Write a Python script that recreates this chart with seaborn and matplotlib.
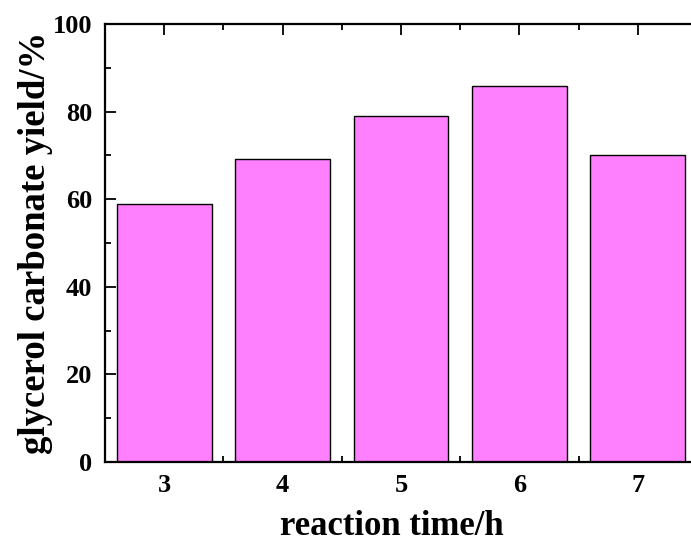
import matplotlib
matplotlib.use("Agg")
import matplotlib.pyplot as plt
import seaborn as sns
import pandas as pd
from matplotlib.ticker import MultipleLocator

# data
times = [3, 4, 5, 6, 7]
yields = [59.0, 69.2, 79.0, 85.9, 70.1]

df = pd.DataFrame({"time": times, "yield": yields})

sns.set_style("ticks")
plt.rcParams["font.family"] = ["Liberation Serif", "DejaVu Serif"]
plt.rcParams["font.weight"] = "bold"
plt.rcParams["text.color"] = "black"
plt.rcParams["axes.labelcolor"] = "black"

fig = plt.figure(figsize=(6.91, 5.44), dpi=100)
# axes runs slightly past the right edge, as in the reference
ax = fig.add_axes([105 / 691, 82 / 544, 592 / 691, 438 / 544])

sns.barplot(data=df, x="time", y="yield", color="#FF80FF", saturation=1,
            width=0.8, edgecolor="black", linewidth=1.0, ax=ax, native_scale=True)

ax.set_xlim(2.5, 7.5)
ax.set_ylim(0, 100)
ax.xaxis.set_major_locator(MultipleLocator(1))
ax.xaxis.set_minor_locator(MultipleLocator(0.5))
ax.yaxis.set_major_locator(MultipleLocator(20))
ax.yaxis.set_minor_locator(MultipleLocator(10))

for s in ax.spines.values():
    s.set_linewidth(1.6)
    s.set_color("black")

ax.tick_params(which="both", direction="in", top=True, right=False, width=1.3,
               colors="black", labelcolor="black")
ax.tick_params(which="major", length=8, labelsize=19, pad=9)
ax.tick_params(which="minor", length=4)
for lab in ax.get_xticklabels() + ax.get_yticklabels():
    lab.set_fontweight("bold")

ax.set_xlabel("reaction time/h", fontsize=25, fontweight="bold")
ax.set_ylabel("glycerol carbonate yield/%", fontsize=26.5, fontweight="bold")
ax.xaxis.set_label_coords(0.485, -0.148)
ax.yaxis.set_label_coords(-0.118, 0.5)
ax.xaxis.label.set_verticalalignment("center")
ax.yaxis.label.set_verticalalignment("center")

fig.savefig("out.png", dpi=100)
